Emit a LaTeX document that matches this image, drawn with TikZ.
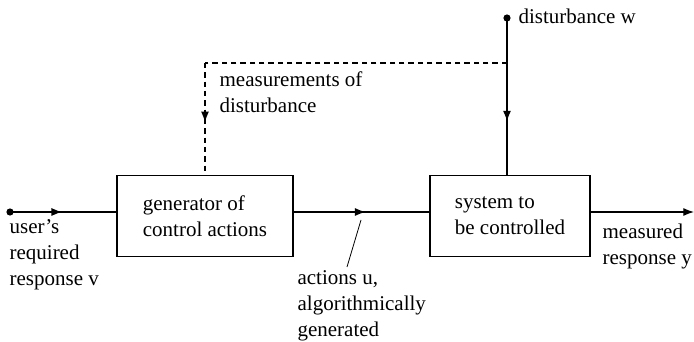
\documentclass[tikz,border=0pt]{standalone}
\usepackage{fontspec}
\setmainfont{Liberation Serif}
\usetikzlibrary{positioning, arrows.meta, decorations.markings}

\tikzset{
    block/.style={draw, line width=0.9pt, minimum height=61pt, align=left, inner sep=0pt},
    lbl/.style={anchor=base west, align=left, inner sep=0pt},
    midarrow/.style={postaction={decorate}, decoration={markings,
        mark=at position #1 with {\arrow{Latex[length=8pt, width=6pt]}}}},
}

\begin{document}
\begin{tikzpicture}[x=0.75pt, y=-0.75pt, line width=0.9pt,
    font=\fontsize{15.75}{19.5}\selectfont]
    \useasboundingbox (0,0) rectangle (694,342);

    % the two blocks
    \node[block, minimum width=132pt] (gen) at (205,216) {generator of\\control actions};
    \node[block, minimum width=120pt] (sys) at (510,216) {system to\\be controlled};

    % end points
    \coordinate (udot) at (10,212);
    \coordinate (wdot) at (507,18);
    \coordinate (tap) at (507,63);
    \coordinate (corner) at (205,63);
    \coordinate (yend) at (694,212);
    \coordinate (pa) at (361,220);
    \coordinate (pb) at (347,267);

    \filldraw (udot) circle (2.2pt);
    \filldraw (wdot) circle (2.2pt);

    % main signal path
    \draw[midarrow=0.49] (udot) -- (udot -| gen.west);
    \draw[midarrow=0.53] (udot -| gen.east) -- (udot -| sys.west);
    \draw[-{Latex[length=8pt, width=6pt]}] (udot -| sys.east) -- (yend);

    % disturbance
    \draw[midarrow=0.66] (wdot) -- (wdot |- sys.north);
    \draw[dashed, dash pattern=on 4pt off 3pt] (tap) -- (corner);
    \draw[dashed, dash pattern=on 4pt off 3pt, midarrow=0.53] (corner) -- (gen.north);

    % pointer to u
    \draw[line width=0.6pt] (pa) -- (pb);

    % labels (base = last line)
    \node[lbl] (wlbl) at (518,24) {disturbance w};
    \node[lbl] (mlbl) at (219,113) {measurements of\\disturbance};
    \node[lbl] (vlbl) at (9,286) {user's\\required\\response v};
    \node[lbl] (ulbl) at (297,337) {actions u,\\algorithmically\\generated};
    \node[lbl] (ylbl) at (602,265) {measured\\response y};
\end{tikzpicture}
\end{document}
